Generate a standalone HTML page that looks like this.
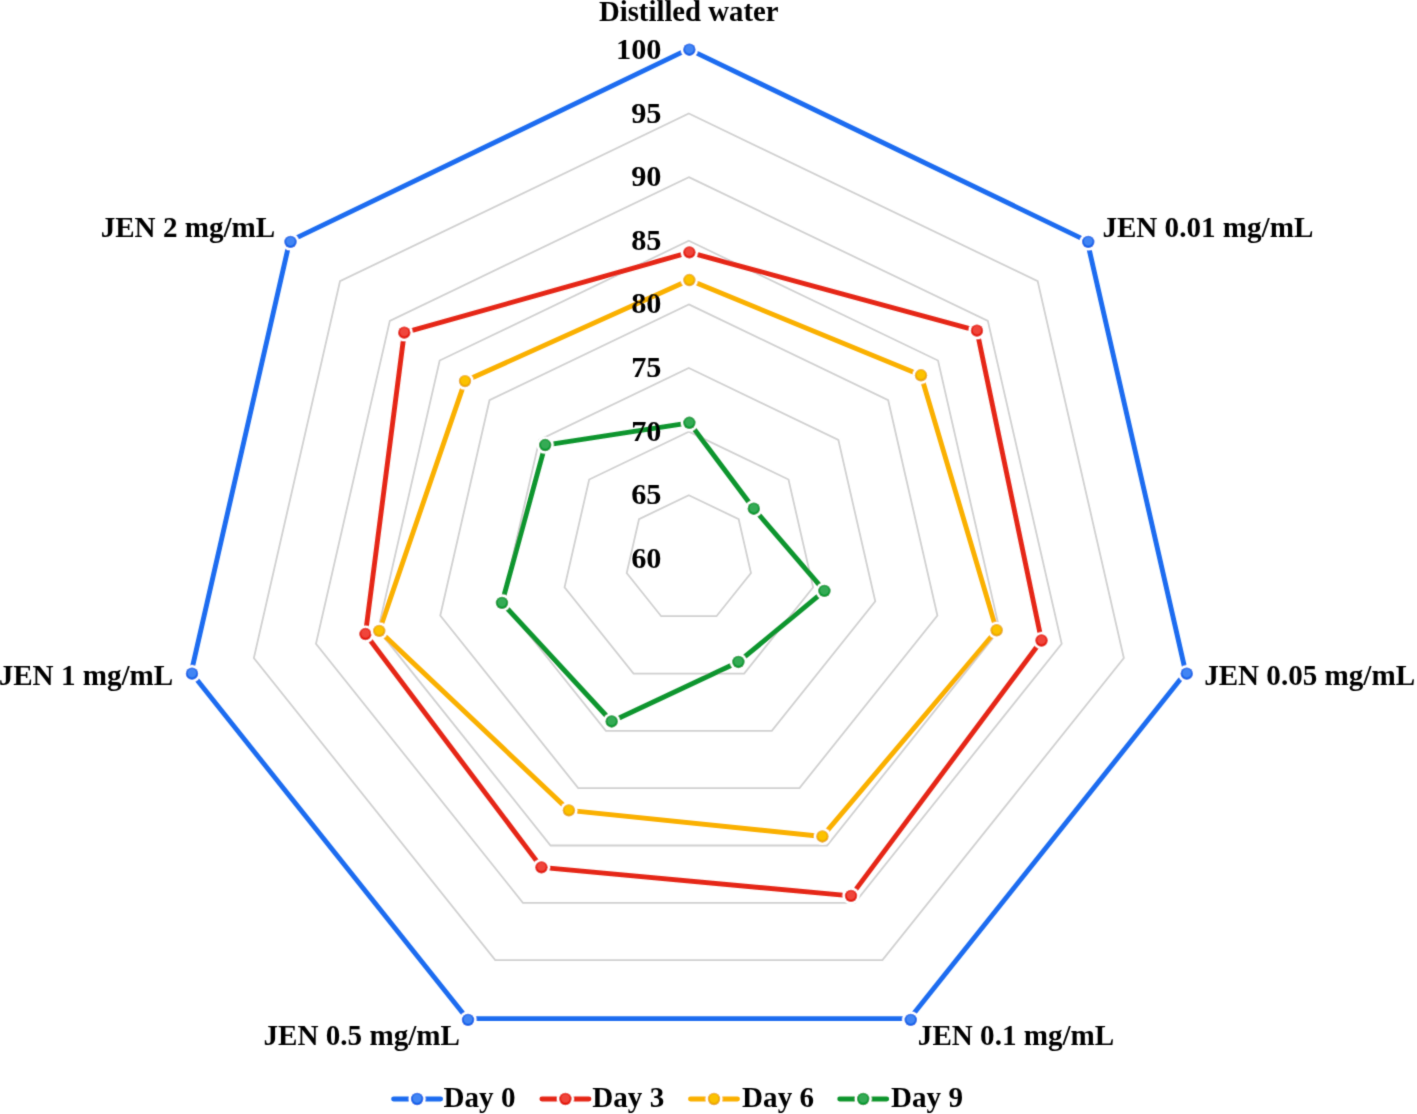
<!DOCTYPE html><html><head><meta charset="utf-8"><style>html,body{margin:0;padding:0;background:#fff;overflow:hidden}svg{display:block}</style></head><body>
<svg width="1417" height="1114" viewBox="0 0 1417 1114">
<defs><radialGradient id="gblu" cx="50%" cy="44%" r="56%"><stop offset="0" stop-color="#4385f4"/><stop offset="0.5" stop-color="#4385f4"/><stop offset="0.85" stop-color="#0a5ce6"/><stop offset="1" stop-color="#0a5ce6"/></radialGradient><radialGradient id="gred" cx="50%" cy="44%" r="56%"><stop offset="0" stop-color="#f0443a"/><stop offset="0.5" stop-color="#f0443a"/><stop offset="0.85" stop-color="#e01000"/><stop offset="1" stop-color="#e01000"/></radialGradient><radialGradient id="gyel" cx="50%" cy="44%" r="56%"><stop offset="0" stop-color="#fcc205"/><stop offset="0.5" stop-color="#fcc205"/><stop offset="0.85" stop-color="#e9a500"/><stop offset="1" stop-color="#e9a500"/></radialGradient><radialGradient id="ggrn" cx="50%" cy="44%" r="56%"><stop offset="0" stop-color="#34ab55"/><stop offset="0.5" stop-color="#34ab55"/><stop offset="0.85" stop-color="#00942a"/><stop offset="1" stop-color="#00942a"/></radialGradient><filter id="b" x="0" y="0" width="1417" height="1114" filterUnits="userSpaceOnUse"><feConvolveMatrix order="3" kernelMatrix="0.01917 0.10012 0.01917 0.10012 0.52283 0.10012 0.01917 0.10012 0.01917" divisor="1" edgeMode="none" preserveAlpha="false"/></filter></defs>
<rect width="1417" height="1114" fill="#fff"/>
<g filter="url(#b)">
<polygon points="688.84,495.27 738.67,519.22 750.98,573.05 716.50,616.21 661.18,616.21 626.70,573.05 639.01,519.22" fill="none" stroke="#d0d0d0" stroke-width="1.8"/>
<polygon points="688.84,431.65 788.51,479.56 813.13,587.20 744.15,673.53 633.53,673.53 564.55,587.20 589.17,479.56" fill="none" stroke="#d0d0d0" stroke-width="1.8"/>
<polygon points="688.84,368.03 838.34,439.89 875.27,601.36 771.81,730.85 605.87,730.85 502.41,601.36 539.34,439.89" fill="none" stroke="#d0d0d0" stroke-width="1.8"/>
<polygon points="688.84,304.41 888.18,400.23 937.41,615.52 799.47,788.16 578.21,788.16 440.27,615.52 489.50,400.23" fill="none" stroke="#d0d0d0" stroke-width="1.8"/>
<polygon points="688.84,240.80 938.01,360.56 999.56,629.67 827.12,845.48 550.56,845.48 378.12,629.67 439.67,360.56" fill="none" stroke="#d0d0d0" stroke-width="1.8"/>
<polygon points="688.84,177.18 987.85,320.90 1061.70,643.83 854.78,902.80 522.90,902.80 315.98,643.83 389.83,320.90" fill="none" stroke="#d0d0d0" stroke-width="1.8"/>
<polygon points="688.84,113.56 1037.68,281.23 1123.84,657.99 882.43,960.12 495.25,960.12 253.84,657.99 340.00,281.23" fill="none" stroke="#d0d0d0" stroke-width="1.8"/>
<polygon points="688.45,49.10 1087.26,241.12 1185.76,672.59 909.77,1018.59 467.13,1018.59 191.14,672.59 289.64,241.12" fill="none" stroke="#1b6cf0" stroke-width="4.9" stroke-linejoin="round"/>
<circle cx="689.37" cy="49.72" r="8.6" fill="#fff"/><circle cx="689.37" cy="49.72" r="6.2" fill="url(#gblu)"/>
<circle cx="1088.24" cy="241.88" r="8.6" fill="#fff"/><circle cx="1088.24" cy="241.88" r="6.2" fill="url(#gblu)"/>
<circle cx="1186.75" cy="673.66" r="8.6" fill="#fff"/><circle cx="1186.75" cy="673.66" r="6.2" fill="url(#gblu)"/>
<circle cx="910.72" cy="1019.92" r="8.6" fill="#fff"/><circle cx="910.72" cy="1019.92" r="6.2" fill="url(#gblu)"/>
<circle cx="468.02" cy="1019.92" r="8.6" fill="#fff"/><circle cx="468.02" cy="1019.92" r="6.2" fill="url(#gblu)"/>
<circle cx="191.99" cy="673.66" r="8.6" fill="#fff"/><circle cx="191.99" cy="673.66" r="6.2" fill="url(#gblu)"/>
<circle cx="290.50" cy="241.88" r="8.6" fill="#fff"/><circle cx="290.50" cy="241.88" r="6.2" fill="url(#gblu)"/>
<polygon points="689.37,252.34 976.95,330.66 1041.51,640.50 851.01,895.88 541.45,867.37 365.45,634.05 404.28,332.65" fill="none" stroke="#e52618" stroke-width="4.9" stroke-linejoin="round"/>
<circle cx="689.37" cy="252.34" r="8.6" fill="#fff"/><circle cx="689.37" cy="252.34" r="6.2" fill="url(#gred)"/>
<circle cx="976.95" cy="330.66" r="8.6" fill="#fff"/><circle cx="976.95" cy="330.66" r="6.2" fill="url(#gred)"/>
<circle cx="1041.51" cy="640.50" r="8.6" fill="#fff"/><circle cx="1041.51" cy="640.50" r="6.2" fill="url(#gred)"/>
<circle cx="851.01" cy="895.88" r="8.6" fill="#fff"/><circle cx="851.01" cy="895.88" r="6.2" fill="url(#gred)"/>
<circle cx="541.45" cy="867.37" r="8.6" fill="#fff"/><circle cx="541.45" cy="867.37" r="6.2" fill="url(#gred)"/>
<circle cx="365.45" cy="634.05" r="8.6" fill="#fff"/><circle cx="365.45" cy="634.05" r="6.2" fill="url(#gred)"/>
<circle cx="404.28" cy="332.65" r="8.6" fill="#fff"/><circle cx="404.28" cy="332.65" r="6.2" fill="url(#gred)"/>
<polygon points="689.37,280.02 921.01,375.29 996.63,630.25 822.40,836.45 568.90,810.35 379.25,630.90 465.01,381.10" fill="none" stroke="#fab000" stroke-width="4.9" stroke-linejoin="round"/>
<circle cx="689.37" cy="280.02" r="8.6" fill="#fff"/><circle cx="689.37" cy="280.02" r="6.2" fill="url(#gyel)"/>
<circle cx="921.01" cy="375.29" r="8.6" fill="#fff"/><circle cx="921.01" cy="375.29" r="6.2" fill="url(#gyel)"/>
<circle cx="996.63" cy="630.25" r="8.6" fill="#fff"/><circle cx="996.63" cy="630.25" r="6.2" fill="url(#gyel)"/>
<circle cx="822.40" cy="836.45" r="8.6" fill="#fff"/><circle cx="822.40" cy="836.45" r="6.2" fill="url(#gyel)"/>
<circle cx="568.90" cy="810.35" r="8.6" fill="#fff"/><circle cx="568.90" cy="810.35" r="6.2" fill="url(#gyel)"/>
<circle cx="379.25" cy="630.90" r="8.6" fill="#fff"/><circle cx="379.25" cy="630.90" r="6.2" fill="url(#gyel)"/>
<circle cx="465.01" cy="381.10" r="8.6" fill="#fff"/><circle cx="465.01" cy="381.10" r="6.2" fill="url(#gyel)"/>
<polygon points="689.37,422.80 753.79,508.70 824.41,590.92 738.40,661.94 611.67,721.49 501.98,602.88 545.18,445.06" fill="none" stroke="#0f952e" stroke-width="4.9" stroke-linejoin="round"/>
<circle cx="689.37" cy="422.80" r="8.6" fill="#fff"/><circle cx="689.37" cy="422.80" r="6.2" fill="url(#ggrn)"/>
<circle cx="753.79" cy="508.70" r="8.6" fill="#fff"/><circle cx="753.79" cy="508.70" r="6.2" fill="url(#ggrn)"/>
<circle cx="824.41" cy="590.92" r="8.6" fill="#fff"/><circle cx="824.41" cy="590.92" r="6.2" fill="url(#ggrn)"/>
<circle cx="738.40" cy="661.94" r="8.6" fill="#fff"/><circle cx="738.40" cy="661.94" r="6.2" fill="url(#ggrn)"/>
<circle cx="611.67" cy="721.49" r="8.6" fill="#fff"/><circle cx="611.67" cy="721.49" r="6.2" fill="url(#ggrn)"/>
<circle cx="501.98" cy="602.88" r="8.6" fill="#fff"/><circle cx="501.98" cy="602.88" r="6.2" fill="url(#ggrn)"/>
<circle cx="545.18" cy="445.06" r="8.6" fill="#fff"/><circle cx="545.18" cy="445.06" r="6.2" fill="url(#ggrn)"/>
<text x="661.5" y="567.9" text-anchor="end" font-family="'Liberation Serif', serif" font-weight="bold" font-size="30.3">60</text>
<text x="661.5" y="504.3" text-anchor="end" font-family="'Liberation Serif', serif" font-weight="bold" font-size="30.3">65</text>
<text x="661.5" y="440.7" text-anchor="end" font-family="'Liberation Serif', serif" font-weight="bold" font-size="30.3">70</text>
<text x="661.5" y="377.0" text-anchor="end" font-family="'Liberation Serif', serif" font-weight="bold" font-size="30.3">75</text>
<text x="661.5" y="313.4" text-anchor="end" font-family="'Liberation Serif', serif" font-weight="bold" font-size="30.3">80</text>
<text x="661.5" y="249.8" text-anchor="end" font-family="'Liberation Serif', serif" font-weight="bold" font-size="30.3">85</text>
<text x="661.5" y="186.2" text-anchor="end" font-family="'Liberation Serif', serif" font-weight="bold" font-size="30.3">90</text>
<text x="661.5" y="122.6" text-anchor="end" font-family="'Liberation Serif', serif" font-weight="bold" font-size="30.3">95</text>
<text x="661.5" y="58.9" text-anchor="end" font-family="'Liberation Serif', serif" font-weight="bold" font-size="30.3">100</text>
<text x="688.7" y="21.0" text-anchor="middle" font-family="'Liberation Serif', serif" font-weight="bold" font-size="29.1" transform="translate(688.7,0) scale(0.988,1) translate(-688.7,0)">Distilled water</text>
<text x="1207.85" y="236.6" text-anchor="middle" font-family="'Liberation Serif', serif" font-weight="bold" font-size="29.1">JEN 0.01 mg/mL</text>
<text x="1309.6" y="685.3" text-anchor="middle" font-family="'Liberation Serif', serif" font-weight="bold" font-size="29.1">JEN 0.05 mg/mL</text>
<text x="1016.05" y="1045.3" text-anchor="middle" font-family="'Liberation Serif', serif" font-weight="bold" font-size="29.1">JEN 0.1 mg/mL</text>
<text x="361.75" y="1045.3" text-anchor="middle" font-family="'Liberation Serif', serif" font-weight="bold" font-size="29.1">JEN 0.5 mg/mL</text>
<text x="85.95" y="685.3" text-anchor="middle" font-family="'Liberation Serif', serif" font-weight="bold" font-size="29.1">JEN 1 mg/mL</text>
<text x="187.95" y="236.6" text-anchor="middle" font-family="'Liberation Serif', serif" font-weight="bold" font-size="29.1">JEN 2 mg/mL</text>
<line x1="393.6" y1="1099" x2="440.6" y2="1099" stroke="#1b6cf0" stroke-width="4.9" stroke-linecap="round"/>
<circle cx="417.1" cy="1099" r="8.6" fill="#fff"/><circle cx="417.1" cy="1099" r="6.2" fill="url(#gblu)"/>
<text x="479.5" y="1107.0" text-anchor="middle" font-family="'Liberation Serif', serif" font-weight="bold" font-size="29.1">Day 0</text>
<line x1="541.9" y1="1099" x2="588.9" y2="1099" stroke="#e52618" stroke-width="4.9" stroke-linecap="round"/>
<circle cx="565.4" cy="1099" r="8.6" fill="#fff"/><circle cx="565.4" cy="1099" r="6.2" fill="url(#gred)"/>
<text x="628.25" y="1107.0" text-anchor="middle" font-family="'Liberation Serif', serif" font-weight="bold" font-size="29.1">Day 3</text>
<line x1="690.5" y1="1099" x2="737.5" y2="1099" stroke="#fab000" stroke-width="4.9" stroke-linecap="round"/>
<circle cx="714.0" cy="1099" r="8.6" fill="#fff"/><circle cx="714.0" cy="1099" r="6.2" fill="url(#gyel)"/>
<text x="778.05" y="1107.0" text-anchor="middle" font-family="'Liberation Serif', serif" font-weight="bold" font-size="29.1">Day 6</text>
<line x1="839.7" y1="1099" x2="886.7" y2="1099" stroke="#0f952e" stroke-width="4.9" stroke-linecap="round"/>
<circle cx="863.2" cy="1099" r="8.6" fill="#fff"/><circle cx="863.2" cy="1099" r="6.2" fill="url(#ggrn)"/>
<text x="927.0" y="1107.0" text-anchor="middle" font-family="'Liberation Serif', serif" font-weight="bold" font-size="29.1">Day 9</text>
</g></svg></body></html>
